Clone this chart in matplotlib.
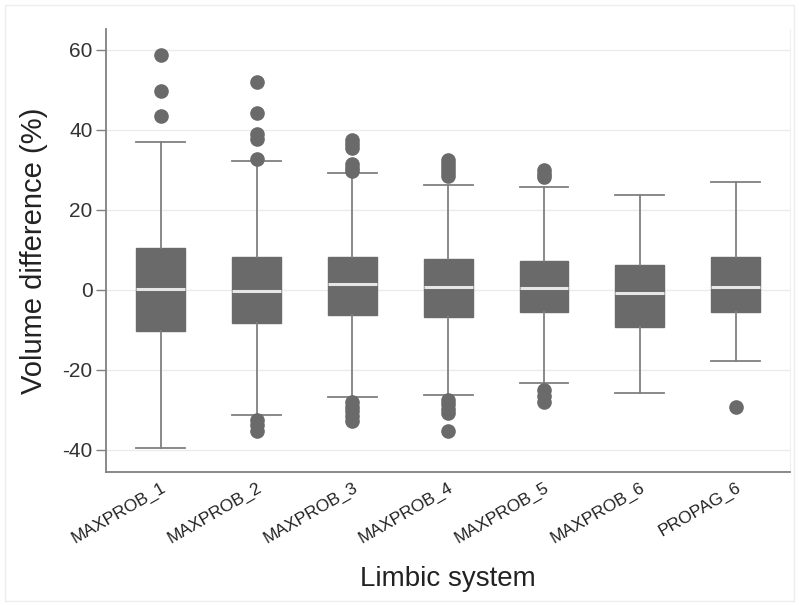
import matplotlib.pyplot as plt
from matplotlib.patches import Rectangle

plt.rcParams['font.family'] = ['Liberation Sans', 'DejaVu Sans']

# Box statistics (volume difference, %)
labels = ['MAXPROB_1', 'MAXPROB_2', 'MAXPROB_3', 'MAXPROB_4',
          'MAXPROB_5', 'MAXPROB_6', 'PROPAG_6']
q1 = [-10.4, -8.2, -6.3, -6.7, -5.6, -9.2, -5.6]
med = [0.2, -0.2, 1.4, 0.8, 0.4, -0.8, 0.7]
q3 = [10.4, 8.3, 8.1, 7.7, 7.3, 6.3, 8.3]
whislo = [-39.6, -31.3, -26.8, -26.2, -23.3, -25.7, -17.7]
whishi = [36.9, 32.1, 29.2, 26.1, 25.7, 23.8, 26.9]
outliers = [
    [58.6, 49.8, 43.5],
    [51.9, 44.3, 39.0, 37.8, 32.7, -32.5, -33.8, -35.2],
    [37.5, 36.5, 35.5, 31.5, 30.5, 29.6, -28.0, -29.2, -30.4, -31.6, -32.8],
    [32.5, 31.5, 30.5, 29.5, 28.5, -27.5, -28.6, -29.7, -30.8, -35.4],
    [30.0, 29.0, 28.3, -25.0, -26.5, -28.0],
    [],
    [-29.3],
]

yticks = [-40, -20, 0, 20, 40, 60]

stats = []
for i, name in enumerate(labels):
    stats.append({'label': name, 'q1': q1[i], 'med': med[i], 'q3': q3[i],
                  'whislo': whislo[i], 'whishi': whishi[i], 'fliers': outliers[i]})

fig = plt.figure(figsize=(7.99, 6.05), dpi=100)
ax = fig.add_axes([0.133, 0.22, 0.856, 0.732])

box_col = '#6a6a6a'
line_col = '#808080'
ax.bxp(stats, positions=range(1, 8), widths=0.51, patch_artist=True,
       boxprops=dict(facecolor=box_col, edgecolor=box_col, linewidth=1),
       medianprops=dict(color='#e6e6e6', linewidth=2.2),
       whiskerprops=dict(color=line_col, linewidth=1.3),
       capprops=dict(color=line_col, linewidth=1.3),
       capwidths=0.51,
       flierprops=dict(marker='o', markerfacecolor=box_col, markeredgecolor=box_col,
                       markersize=9.5))

ax.set_xlim(0.43, 7.57)
ax.set_ylim(-45.5, 65.2)
ax.set_yticks(yticks)
ax.set_yticklabels([str(t) for t in yticks], fontsize=15, color='#333333')
ax.set_xticks(range(1, 8))
ax.set_xticklabels(labels, rotation=30, ha='right', rotation_mode='anchor',
                   fontsize=12.5, color='#222222')
ax.tick_params(axis='y', length=7, width=1, color=line_col, pad=3)
ax.tick_params(axis='x', length=0, pad=6)

ax.grid(axis='y', color='#ebebeb', linewidth=1)
ax.set_axisbelow(True)
ax.spines['top'].set_visible(False)
ax.spines['right'].set_color('#f0f0f0')
for s in ['left', 'bottom']:
    ax.spines[s].set_color('#808080')
    ax.spines[s].set_linewidth(1.3)

ax.set_ylabel('Volume difference (%)', fontsize=21, color='#222222', labelpad=10)
ax.set_xlabel('Limbic system', fontsize=20, color='#222222', labelpad=14)

fig.patches.append(Rectangle((0.006, 0.006), 0.988, 0.985, transform=fig.transFigure,
                             fill=False, edgecolor='#eeeeee', linewidth=1))

fig.savefig('out.png', dpi=100)
